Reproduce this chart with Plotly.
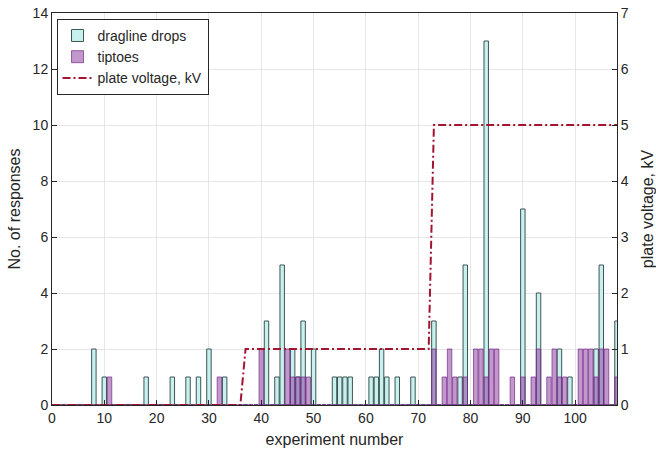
import plotly.graph_objects as go

experiments = list(range(1, 109))
drag_counts = {8: 2, 10: 1, 18: 1, 23: 1, 26: 1, 28: 1, 30: 2, 33: 1, 41: 3, 43: 1, 44: 5,
               46: 2, 47: 1, 48: 3, 50: 2, 54: 1, 55: 1, 56: 1, 57: 1, 61: 1, 62: 1, 63: 2,
               64: 1, 66: 1, 69: 1, 73: 3, 78: 1, 79: 5, 83: 13, 90: 7, 93: 4, 97: 2, 99: 1,
               104: 2, 105: 5, 108: 3}
tip_counts = {11: 1, 32: 1, 40: 2, 45: 2, 46: 1, 47: 1, 48: 1, 49: 1, 73: 2, 75: 1, 76: 2,
              77: 1, 79: 1, 81: 2, 82: 2, 83: 1, 84: 2, 85: 2, 88: 1, 90: 1, 92: 1, 93: 2,
              95: 1, 96: 2, 97: 1, 98: 1, 101: 2, 102: 2, 103: 2, 104: 1, 105: 2, 106: 2, 108: 1}
dragline = [drag_counts.get(e, 0) for e in experiments]
tiptoes = [tip_counts.get(e, 0) for e in experiments]

voltage_x = [0, 36, 37, 72, 73, 108]
voltage_kv = [0, 0, 1, 1, 5, 5]

x_ticks = list(range(0, 101, 10))
y_ticks = list(range(0, 15, 2))
y2_ticks = list(range(0, 8))

font = "Liberation Sans, Arial, sans-serif"
axis_col = "#262626"

fig = go.Figure()
fig.add_trace(go.Bar(x=experiments, y=dragline, name="dragline drops", width=0.85,
                     marker=dict(color="#c8f1ee", line=dict(color="#3c5454", width=1))))
fig.add_trace(go.Bar(x=experiments, y=tiptoes, name="tiptoes", width=0.85,
                     marker=dict(color="rgba(130,50,150,0.5)", line=dict(color="rgba(120,40,140,0.7)", width=1))))
fig.add_trace(go.Scatter(x=voltage_x, y=voltage_kv, name="plate voltage, kV", mode="lines",
                         yaxis="y2", line=dict(color="#a2142f", width=2, dash="8px,3px,2px,3px")))

fig.update_layout(
    width=656, height=455,
    margin=dict(l=52, r=39, t=13, b=50, autoexpand=False),
    barmode="overlay",
    plot_bgcolor="white", paper_bgcolor="white",
    font=dict(family=font, size=14, color=axis_col),
    showlegend=True,
    legend=dict(x=0.008, y=0.985, xanchor="left", yanchor="top", bgcolor="white",
                bordercolor=axis_col, borderwidth=1, font=dict(size=14),
                tracegroupgap=0, itemwidth=30),
    xaxis=dict(range=[0, 108], tickvals=x_ticks, showgrid=True, gridcolor="#e6e6e6",
               showline=True, linecolor=axis_col, mirror=True, ticks="inside", ticklen=5,
               tickcolor=axis_col, zeroline=False, automargin=False,
               title=dict(text="experiment number", font=dict(size=16), standoff=9)),
    yaxis=dict(range=[0, 14], tickvals=y_ticks, showgrid=True, gridcolor="#e6e6e6",
               showline=True, linecolor=axis_col, mirror=True, ticks="inside", ticklen=5,
               tickcolor=axis_col, zeroline=False, automargin=False,
               title=dict(text="No. of responses", font=dict(size=16), standoff=8)),
    yaxis2=dict(range=[0, 7], tickvals=y2_ticks, overlaying="y", side="right", showgrid=False,
                showline=True, linecolor=axis_col, ticks="inside", ticklen=5, tickcolor=axis_col,
                zeroline=False, automargin=False,
                title=dict(text="plate voltage, kV", font=dict(size=16), standoff=16)),
)

fig.write_html("out.html")
